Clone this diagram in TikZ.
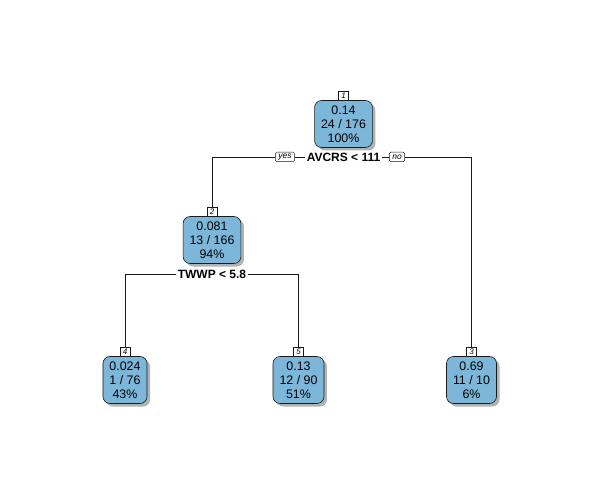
\documentclass[tikz,border=0pt]{standalone}
\usepackage{fontspec}
\setmainfont{Liberation Sans}
\usetikzlibrary{shadows}
\definecolor{nodeblue}{RGB}{124,182,216}
\begin{document}
\begin{tikzpicture}[x=1pt,y=-1pt,
  tnode/.style={draw=black!90, fill=nodeblue, rounded corners=7pt, align=center,
    inner xsep=6.5pt, inner ysep=3pt, minimum height=47pt, line width=0.6pt,
    font=\fontsize{12.4}{14}\selectfont,
    drop shadow={shadow xshift=3pt, shadow yshift=-3pt, fill=black, opacity=0.3}},
  numlab/.style={draw=black!90, fill=white, inner sep=0.8pt, minimum width=10pt,
    minimum height=8.5pt, anchor=south, line width=0.5pt, font=\fontsize{8}{8}\selectfont\itshape},
  splitlab/.style={fill=white, inner xsep=2pt, inner ysep=1pt, font=\fontsize{12}{12}\selectfont\bfseries},
  yn/.style={draw=black!90, fill=white, rounded corners=1.5pt, inner xsep=3pt, inner ysep=1.5pt,
    minimum height=9.5pt, line width=0.5pt, font=\fontsize{8.5}{8.5}\selectfont\itshape},
  edge/.style={draw=black!90, line width=0.5pt}]
\fill[white] (0,0) rectangle (600,500);
\useasboundingbox (0,0) rectangle (600,500);

\node[tnode] (n1) at (343.5,124) {0.14\\24 / 176\\100\%};
\node[tnode] (n2) at (212,240) {0.081\\13 / 166\\94\%};
\node[tnode] (n4) at (125,380) {0.024\\1 / 76\\43\%};
\node[tnode] (n5) at (298.5,380) {0.13\\12 / 90\\51\%};
\node[tnode] (n3) at (471.5,380) {0.69\\11 / 10\\6\%};

\node[numlab] (l1) at (n1.north) {1};
\node[numlab] (l2) at (n2.north) {2};
\node[numlab] (l4) at (n4.north) {4};
\node[numlab] (l5) at (n5.north) {5};
\node[numlab] (l3) at (n3.north) {3};

\node[splitlab] (s1) at (343.5,157) {AVCRS < 111};
\node[yn] (yes1) at (285,157) {yes};
\node[yn] (no1) at (397,157) {no};
\node[splitlab] (s2) at (212,274) {TWWP < 5.8};

\draw[edge] (s1.west) -- (yes1.east);
\draw[edge] (yes1.west) -| (l2.north);
\draw[edge] (s1.east) -- (no1.west);
\draw[edge] (no1.east) -| (l3.north);
\draw[edge] (s2.west) -| (l4.north);
\draw[edge] (s2.east) -| (l5.north);
\end{tikzpicture}
\end{document}
